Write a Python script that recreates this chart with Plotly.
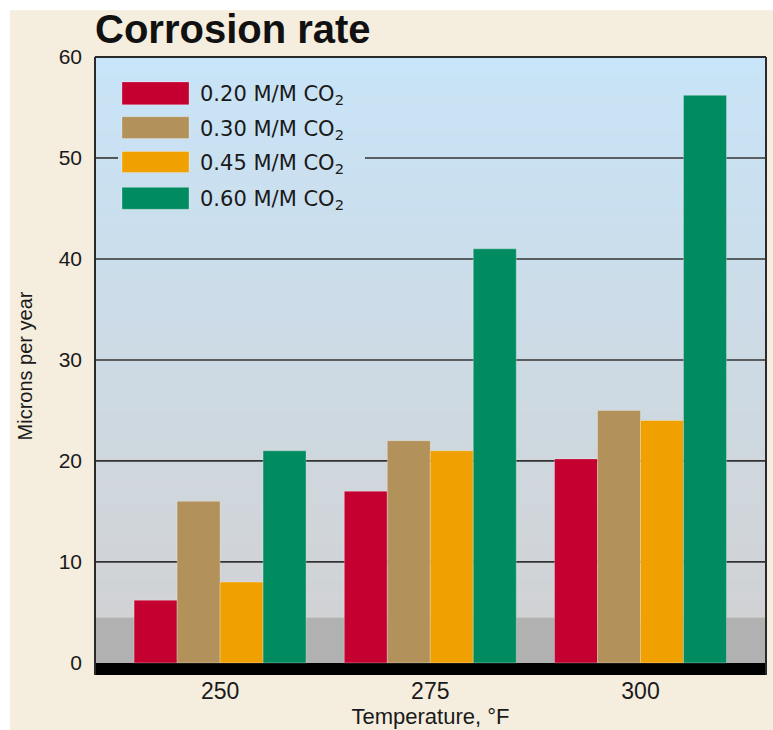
import plotly.graph_objects as go

# ---------------- data ----------------
temperatures = ["250", "275", "300"]
series_names = ["0.20 M/M CO<sub>2</sub>", "0.30 M/M CO<sub>2</sub>",
                "0.45 M/M CO<sub>2</sub>", "0.60 M/M CO<sub>2</sub>"]
co2_020 = [6.2, 17.0, 20.2]
co2_030 = [16.0, 22.0, 25.0]
co2_045 = [8.0, 21.0, 24.0]
co2_060 = [21.0, 41.0, 56.2]
y_ticks = [0, 10, 20, 30, 40, 50, 60]

series_values = [co2_020, co2_030, co2_045, co2_060]
colors = ["#c40030", "#b2925a", "#f0a000", "#008c60"]

# ---------------- layout geometry ----------------
W, H = 773, 730
ML, MR, MT, MB = 95, 7, 57, 52
PW = W - ML - MR
PH = H - MT - MB
YMIN, YMAX = -1.2, 60


def px_x(p):
    return (p - ML) / PW


def px_y(p):
    return (H - MB - p) / PH


fig = go.Figure()
xpos = list(range(len(temperatures)))
for name, vals, col in zip(series_names, series_values, colors):
    fig.add_trace(go.Bar(
        x=xpos, y=vals, name=name, marker_color=col,
        marker_line=dict(width=0.8, color="rgba(255,255,255,0.35)"),
        showlegend=False, hoverinfo="y+name",
    ))

shapes = []
# outer beige panel (white edge at top/left)
shapes.append(dict(type="rect", xref="paper", yref="paper",
                   x0=px_x(10), x1=px_x(W + 5), y0=px_y(H + 5), y1=px_y(10),
                   fillcolor="#f5eddd", line=dict(width=0), layer="below"))
# plot background gradient (blue top -> grey bottom)
top_c = (200, 228, 248)
bot_c = (209, 210, 212)
band_top = 4.5
n = 60
for i in range(n):
    y0 = band_top + (YMAX - band_top) * i / n
    y1 = band_top + (YMAX - band_top) * (i + 1) / n
    t = (i + 0.5) / n
    c = tuple(round(bot_c[k] + (top_c[k] - bot_c[k]) * t) for k in range(3))
    shapes.append(dict(type="rect", xref="paper", yref="y", x0=0, x1=1,
                       y0=y0, y1=y1 + 0.05,
                       fillcolor="rgb(%d,%d,%d)" % c, line=dict(width=0),
                       layer="below"))
# darker grey band near the floor
shapes.append(dict(type="rect", xref="paper", yref="y", x0=0, x1=1,
                   y0=0, y1=band_top, fillcolor="#b1b1b1",
                   line=dict(width=0), layer="below"))
# black floor
shapes.append(dict(type="rect", xref="paper", yref="y", x0=0, x1=1,
                   y0=YMIN, y1=0, fillcolor="#000000",
                   line=dict(width=0), layer="below"))

# horizontal gridlines (the one at 50 is interrupted by the legend)
grid = dict(color="#333333", width=1.6)
for v in y_ticks[1:-1]:
    if v == 50:
        segs = [(0, px_x(118)), (px_x(365), 1)]
    else:
        segs = [(0, 1)]
    for a, b in segs:
        shapes.append(dict(type="line", xref="paper", yref="y", x0=a, x1=b,
                           y0=v, y1=v, line=grid, layer="below"))

# plot frame (left, top, right)
frame = dict(color="#2a2a2a", width=2)
shapes.append(dict(type="line", xref="paper", yref="paper", x0=0, x1=0,
                   y0=0, y1=1, line=frame))
shapes.append(dict(type="line", xref="paper", yref="paper", x0=0, x1=1,
                   y0=1, y1=1, line=frame))
shapes.append(dict(type="line", xref="paper", yref="paper", x0=1, x1=1,
                   y0=0, y1=1, line=frame))

# custom legend
legend_rows = [(82, 105), (117, 139), (152, 173), (188, 210)]
annotations = []
for (ya, yb), name, col in zip(legend_rows, series_names, colors):
    shapes.append(dict(type="rect", xref="paper", yref="paper",
                       x0=px_x(122), x1=px_x(189), y0=px_y(yb), y1=px_y(ya),
                       fillcolor=col, line=dict(width=0.8, color="rgba(255,255,255,0.35)")))
    annotations.append(dict(text=name, xref="paper", yref="paper",
                            x=px_x(198), y=px_y((ya + yb) / 2 + 2),
                            xanchor="left", yanchor="middle", showarrow=False,
                            font=dict(family="DejaVu Sans", size=21, color="#1a1a1a")))

# title
annotations.append(dict(text="<b>Corrosion rate</b>", xref="paper", yref="paper",
                        x=px_x(93), y=px_y(29), xanchor="left", yanchor="middle",
                        showarrow=False,
                        font=dict(family="Liberation Sans", size=40, color="#111111")))

fig.update_layout(
    width=W, height=H,
    margin=dict(l=ML, r=MR, t=MT, b=MB, pad=0),
    paper_bgcolor="#ffffff", plot_bgcolor="rgba(0,0,0,0)",
    barmode="group", bargap=0.182, bargroupgap=0,
    shapes=shapes, annotations=annotations,
    font=dict(family="Liberation Sans", color="#1a1a1a"),
    xaxis=dict(range=[-0.595, 2.597], tickvals=xpos, ticktext=temperatures,
               showgrid=False, zeroline=False, showline=False, ticks="",
               tickfont=dict(size=23),
               title=dict(text="Temperature, °F", font=dict(size=22), standoff=4)),
    yaxis=dict(range=[YMIN, YMAX], tickvals=y_ticks, showgrid=False,
               zeroline=False, showline=False, ticks="", ticklabelstandoff=12,
               tickfont=dict(size=21),
               title=dict(text="Microns per year", font=dict(size=20), standoff=20)),
)

fig.write_html("out.html", config={"displayModeBar": False},
               post_script="document.body.style.margin='0';document.body.style.padding='0';")
